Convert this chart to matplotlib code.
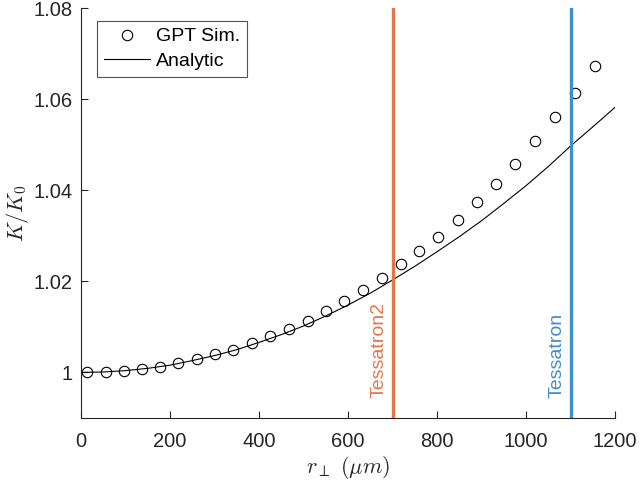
import numpy as np
import matplotlib
matplotlib.use('Agg')
from matplotlib import pyplot as plt

plt.rcParams['font.family'] = ['Liberation Sans', 'DejaVu Sans']
plt.rcParams['mathtext.fontset'] = 'cm'

# GPT simulation points (r in um, K/K0)
r_sim = [14, 56, 97, 137, 178, 219, 260, 301, 342, 384, 425, 467, 509, 551,
         592, 634, 676, 718, 760, 803, 846, 889, 933, 976, 1020, 1065, 1110, 1155]
k_sim = [1.0001, 1.0002, 1.0004, 1.0008, 1.0013, 1.0021, 1.0029, 1.0040, 1.0050,
         1.0064, 1.0079, 1.0096, 1.0114, 1.0135, 1.0157, 1.0180, 1.0207, 1.0237,
         1.0267, 1.0298, 1.0335, 1.0374, 1.0414, 1.0457, 1.0508, 1.0560, 1.0613,
         1.0673]

# analytic curve
r_an = [0, 50, 100, 150, 200, 250, 300, 350, 400, 450, 500, 550, 600, 650,
        700, 750, 800, 850, 900, 950, 1000, 1050, 1100, 1150, 1200]
k_an = [1.0000, 1.0001, 1.0004, 1.0009, 1.0016, 1.0026, 1.0037, 1.0050, 1.0066,
        1.0083, 1.0102, 1.0124, 1.0148, 1.0174, 1.0203, 1.0233, 1.0265, 1.0298,
        1.0333, 1.0371, 1.0410, 1.0452, 1.0497, 1.0539, 1.0582]

machines = ['Tessatron2', 'Tessatron']
machine_r = [700, 1100]
machine_col = ['#E4764B', '#3D8FCC']

fig = plt.figure(figsize=(6.4, 4.83), dpi=100)
ax = fig.add_axes([0.1266, 0.1346, 0.8344, 0.8488])

ax.plot(r_sim, k_sim, 'o', mfc='none', mec='black', ms=7.5, mew=0.8, label='GPT Sim.')
ax.plot(r_an, k_an, '-', color='black', lw=0.8, label='Analytic')

for name, r, c in zip(machines, machine_r, machine_col):
    ax.axvline(r, color=c, lw=2.4)
    ax.text(r - 11, 0.9943, name, rotation=90, color=c, fontsize=14,
            ha='right', va='bottom')

ax.set_xlim(0, 1200)
ax.set_ylim(0.99, 1.08)
ax.set_xticks(np.arange(0, 1201, 200))
ax.set_yticks([1, 1.02, 1.04, 1.06, 1.08])
ax.set_yticklabels(['1', '1.02', '1.04', '1.06', '1.08'])

for s in ['top', 'right']:
    ax.spines[s].set_visible(False)
for s in ['left', 'bottom']:
    ax.spines[s].set_color('#262626')
    ax.spines[s].set_linewidth(0.8)
ax.tick_params(direction='in', length=5, width=0.8, colors='#262626', labelsize=14.5,
               labelcolor='#262626')
ax.tick_params(axis='x', pad=10)
ax.tick_params(axis='y', pad=6)

ax.set_xlabel(r'$r_\perp\ (\mu m)$', fontsize=16, color='#262626', labelpad=2)
ax.set_ylabel(r'$K/K_0$', fontsize=16, color='#262626', labelpad=2)

leg = ax.legend(loc='upper left', bbox_to_anchor=(16 / 534, 1 - 13 / 410),
                borderaxespad=0, fontsize=14, frameon=True, fancybox=False,
                edgecolor='#262626', handlelength=2.4, handletextpad=0.3,
                borderpad=0.35, labelspacing=0.35)
leg.get_frame().set_linewidth(0.8)

fig.savefig('out.png', dpi=100)
